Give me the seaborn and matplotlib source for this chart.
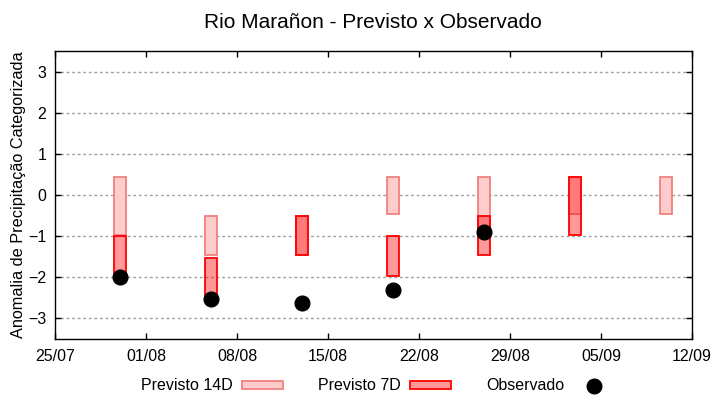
import pandas as pd
import seaborn as sns
import matplotlib.pyplot as plt
import matplotlib.dates as mdates
from matplotlib.patches import Patch
from matplotlib.lines import Line2D

# Forecast dates
dates = ['2023-07-30', '2023-08-06', '2023-08-13', '2023-08-20',
         '2023-08-27', '2023-09-03', '2023-09-10']

# 14-day forecast (upper / lower limit of the category)
p14_top = [0.43, -0.52, -0.52, 0.43, 0.43, 0.43, 0.43]
p14_bot = [-0.96, -1.45, -1.45, -0.45, -0.96, -0.45, -0.45]

# 7-day forecast
p7_top = [-1.0, -1.52, -0.52, -1.0, -0.52, 0.43, None]
p7_bot = [-2.0, -2.45, -1.45, -1.96, -1.45, -0.96, None]

# Observed
observado = [-2.0, -2.52, -2.62, -2.32, -0.9, None, None]

tick_dates = ['2023-07-25', '2023-08-01', '2023-08-08', '2023-08-15',
              '2023-08-22', '2023-08-29', '2023-09-05', '2023-09-12']
y_ticks = [-3, -2, -1, 0, 1, 2, 3]

df = pd.DataFrame({
    'data': pd.to_datetime(dates),
    'p14_top': p14_top, 'p14_bot': p14_bot,
    'p7_top': p7_top, 'p7_bot': p7_bot,
    'obs': observado,
})
df = df.astype({'p7_top': float, 'p7_bot': float, 'obs': float})

sns.set_theme(style='ticks', rc={'text.color': 'black', 'axes.labelcolor': 'black',
                                 'xtick.color': 'black', 'ytick.color': 'black'})
plt.rcParams['font.family'] = ['Liberation Sans', 'DejaVu Sans']

fig = plt.figure(figsize=(7.2, 4.0), dpi=100)
ax = fig.add_axes([0.0768, 0.1525, 0.8842, 0.7195])

c14_face, c14_edge = '#ffcccc', '#f08080'
c7_face, c7_edge = (1, 0, 0, 0.4), '#ff0000'

# ----------- Bars -----------
ax.bar(df['data'], df['p14_top'] - df['p14_bot'], bottom=df['p14_bot'],
       width=0.9, color=c14_face, edgecolor=c14_edge, linewidth=1.3, zorder=2)
d7 = df.dropna(subset=['p7_top'])
ax.bar(d7['data'], d7['p7_top'] - d7['p7_bot'], bottom=d7['p7_bot'],
       width=0.9, color=c7_face, edgecolor=c7_edge, linewidth=1.3, zorder=3)

# ----------- Observed points -----------
sns.scatterplot(data=df.dropna(subset=['obs']), x='data', y='obs', ax=ax,
                color='black', s=115, edgecolor='black', zorder=4, legend=False)

# ----------- Axes -----------
ax.set_xlim(pd.Timestamp(tick_dates[0]), pd.Timestamp(tick_dates[-1]))
ax.set_ylim(-3.5, 3.5)
ax.set_xticks(pd.to_datetime(tick_dates))
ax.xaxis.set_major_formatter(mdates.DateFormatter('%d/%m'))
ax.set_yticks(y_ticks)
ax.set_xlabel('')
ax.set_ylabel('Anomalia de Precipitação Categorizada', fontsize=11.7, labelpad=1.5)
ax.tick_params(axis='both', direction='in', length=4, width=1, labelsize=11.5,
               colors='black', top=True, right=True)
ax.tick_params(axis='x', pad=7)
ax.tick_params(axis='y', pad=6.5)
for s in ax.spines.values():
    s.set_visible(True)
    s.set_linewidth(1)
    s.set_color('black')
ax.yaxis.grid(True, linestyle=(0, (2, 2)), color='#a0a0a0', linewidth=1)
ax.xaxis.grid(False)
ax.set_axisbelow(True)

fig.suptitle('Rio Marañon - Previsto x Observado', fontsize=15, x=0.518, y=0.968,
             color='black')

handles = [
    Patch(facecolor=c14_face, edgecolor=c14_edge, linewidth=1.3),
    Patch(facecolor=c7_face, edgecolor=c7_edge, linewidth=1.3),
    Line2D([], [], marker='o', color='black', linestyle='none', markersize=10.5),
]
fig.legend(handles, ['Previsto 14D', 'Previsto 7D', 'Observado'],
           loc='center', bbox_to_anchor=(0.525, 0.035), ncol=3, frameon=False,
           markerfirst=False, fontsize=11.5, handlelength=2.6, handleheight=0.45,
           handletextpad=0.55, columnspacing=2.2)

fig.savefig('out.png', dpi=100)
